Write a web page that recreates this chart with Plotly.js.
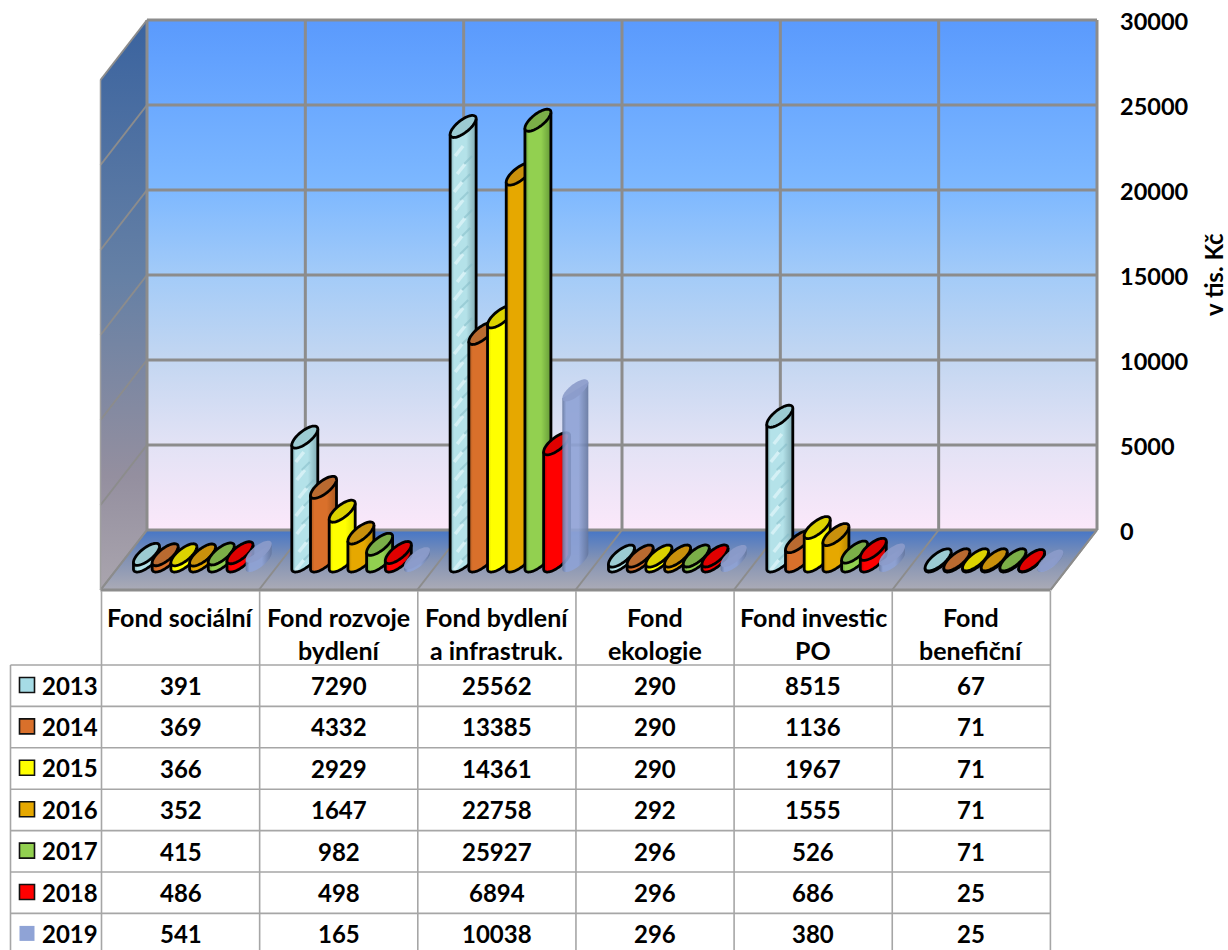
<!DOCTYPE html>
<html>
<head>
<meta charset="utf-8">
<script src="https://cdn.plot.ly/plotly-3.0.1.min.js"></script>
<style>html,body{margin:0;padding:0;background:#fff;overflow:hidden}#c{width:1228px;height:950px}</style>
</head>
<body>
<div id="c"></div>
<script>
const categories = ["Fond sociální","Fond rozvoje<br>bydlení","Fond bydlení<br>a infrastruk.","Fond<br>ekologie","Fond investic<br>PO","Fond<br>benefiční"];
const years = ["2013","2014","2015","2016","2017","2018","2019"];
const v2013 = [391,7290,25562,290,8515,67];
const v2014 = [369,4332,13385,290,1136,71];
const v2015 = [366,2929,14361,290,1967,71];
const v2016 = [352,1647,22758,292,1555,71];
const v2017 = [415,982,25927,296,526,71];
const v2018 = [486,498,6894,296,686,25];
const v2019 = [541,165,10038,296,380,25];
const seriesValues = [v2013,v2014,v2015,v2016,v2017,v2018,v2019];
const tickValues = [0,5000,10000,15000,20000,25000,30000];
const bodyColors = ["#B4E2E9","#D9702B","#FFFF00","#E6A800","#92D050","#FF0000","#8FA3D6"];
const topColors  = ["#9CCBD2","#B96A30","#DCD200","#C9900C","#7BAE48","#E00000","#8C9CCB"];
const edgeColors = ["#7FAAB3","#A9581F","#E0E000","#B98700","#659A38","#C80000","#65779F"];
const keyColors  = ["#A6DCE6","#D9702B","#FFFF00","#E6A800","#92D050","#FF0000","#8FA3D6"];

const L=147,R=1097,T=20,B=530,PR=1100;
const pxX=(R-L)/6, pxY=(B-T)/30000;
const X=p=>p===null?null:(p-L)/pxX;
const Y=p=>p===null?null:(B-p)/pxY;
const DX=-46.5, DY=60;
const FONT='Lato, Carlito, Arial, sans-serif';
const traces=[];
function poly(xs,ys,opt){
  const t=Object.assign({type:'scatter',mode:'lines',x:xs.map(X),y:ys.map(Y),hoverinfo:'skip',showlegend:false,cliponaxis:false,line:{width:0}},opt);
  t.line=Object.assign({simplify:false},t.line);
  traces.push(t);
}

// back wall, floor, left wall
poly([L,R,R,L],[T,T,B,B],{fill:'toself',fillgradient:{type:'vertical',colorscale:[[0,'#FBE8FA'],[0.17,'#E2E2F5'],[0.34,'#C2D6F1'],[0.5,'#A3CBF8'],[0.67,'#7DB8FF'],[0.84,'#6BA9FF'],[1,'#5A9AFD']]}});
poly([L,R,R+DX,L+DX],[B,B,B+DY,B+DY],{fill:'toself',fillgradient:{type:'vertical',colorscale:[[0,'#ABABB6'],[0.5,'#8493B4'],[1,'#4676C6']]}});
poly([L,L,L+DX,L+DX],[T,B,B+DY,T+DY],{fill:'toself',fillgradient:{type:'vertical',colorscale:[[0,'#AAA5AE'],[0.2,'#948F9F'],[0.55,'#6580A5'],[1,'#3A639F']]}});

// grid lines through the axis scales
const gridX=[],gridY=[];
tickValues.forEach(v=>{const y=B-v*pxY;gridX.push(L,R,null);gridY.push(y,y,null);});
for(let i=0;i<=6;i++){const x=L+i*pxX;gridX.push(x,x,null);gridY.push(T,B,null);}
poly(gridX,gridY,{line:{color:'#8C8C8C',width:3}});
const g2X=[],g2Y=[];
tickValues.forEach(v=>{const y=B-v*pxY;g2X.push(L,L+DX,null);g2Y.push(y,y+DY,null);});
for(let i=0;i<=6;i++){const x=L+i*pxX;g2X.push(x,x+DX,null);g2Y.push(B,B+DY,null);}
poly(g2X,g2Y,{line:{color:'#8C8C8C',width:2}});
poly([L+DX,R+DX],[B+DY,B+DY],{line:{color:'#8C8C8C',width:3}});
poly([R+DX,R],[B+DY,B],{line:{color:'#8C8C8C',width:2}});
poly([L+DX,L+DX],[T+DY,B+DY],{line:{color:'#A0A0A0',width:1.5}});

// cylinders
const RX=13, A=8, B2=7.6, STEP=18.7, BASE=561;
function ring(cx,cy,t0,t1,n){
  const xs=[],ys=[];
  for(let k=0;k<=n;k++){const t=t0+(t1-t0)*k/n;xs.push(cx+RX*Math.cos(t));ys.push(cy-A*Math.cos(t)-B2*Math.sin(t));}
  return [xs,ys];
}
categories.forEach((c,i)=>{
  seriesValues.forEach((vals,s)=>{
    const cx=L+(i+0.5)*pxX-23.6+(s-3)*STEP;
    const top=BASE-vals[i]*pxY;
    const bot=ring(cx,BASE,Math.PI,2*Math.PI,40);
    const xs=[cx-RX,...bot[0],cx+RX,cx-RX];
    const ys=[top+A,...bot[1],top-A,top+A];
    const ln=s===6?{width:0}:{color:'#000',width:2.8};
    const e=edgeColors[s],b=bodyColors[s];
    poly(xs,ys,{fill:'toself',opacity:s===6?0.9:1,fillgradient:{type:'horizontal',colorscale:[[0,e],[0.15,b],[0.62,b],[1,e]]}});
    if(s===0){
      // ice-like texture of the 2013 series: pale and darker wisps along the body
      const lightX=[],lightY=[],darkX=[],darkY=[];
      let k=0;
      for(let y=BASE+4;y>top+18;y-=9){
        const off=[-5,3,-2,5,-4,1][k%6];
        const xa=cx+off-4,xb=cx+off+4;
        if(k%2===0){lightX.push(xa,xb,null);lightY.push(y+5,y-5,null);}
        else{darkX.push(xa,xb,null);darkY.push(y+4,y-4,null);}
        k++;
      }
      poly(lightX,lightY,{line:{color:'rgba(225,247,250,0.7)',width:3.5}});
      poly(darkX,darkY,{line:{color:'rgba(130,185,198,0.5)',width:2}});
    }
    poly(xs,ys,{line:ln});
    const r=ring(cx,top,0,2*Math.PI,60);
    poly(r[0],r[1],{fill:'toself',fillcolor:topColors[s],opacity:s===6?0.9:1,line:ln});
  });
});

// data table
const colX=[];for(let i=0;i<=6;i++)colX.push(101.5+i*158.15);
const rowY=[];for(let r=0;r<=7;r++)rowY.push(665+r*41.4);
const tX=[],tY=[];
colX.forEach(x=>{tX.push(x,x,null);tY.push(591,950,null);});
tX.push(10.5,10.5,null);tY.push(rowY[0],950,null);
rowY.forEach(y=>{if(y<950){tX.push(10.5,colX[6],null);tY.push(y,y,null);}});
poly(tX,tY,{line:{color:'#A6A6A6',width:1.6}});

const annotations=[];
function label(px,py,text,size,anchor){
  annotations.push({xref:'x',yref:'y',x:X(px),y:Y(py),text:text,showarrow:false,xanchor:anchor||'center',yanchor:'middle',
    font:{family:FONT,size:size,color:'#000',weight:700},align:'center'});
}
const TS=24, HS=25;
categories.forEach((c,i)=>{
  const cx=(colX[i]+colX[i+1])/2;
  const lines=c.split('<br>');
  lines.forEach((ln,k)=>label(cx,617+k*33,ln,HS));
  seriesValues.forEach((vals,s)=>label(cx,685.5+s*41.4,String(vals[i]),TS));
});
years.forEach((yr,s)=>label(40,685+s*41.4,yr,TS,'left'));
annotations.push({xref:'paper',yref:'paper',x:1213/PR,y:1-275/950,text:'v tis. Kč',textangle:-90,showarrow:false,xanchor:'center',yanchor:'middle',
  font:{family:FONT,size:24,color:'#000',weight:700}});
traces.push({type:'scatter',mode:'markers',x:years.map(()=>X(27)),y:years.map((yr,s)=>Y(685+s*41.4)),hoverinfo:'skip',showlegend:false,cliponaxis:false,
  marker:{symbol:'square',size:15,color:keyColors,line:{color:years.map((y,s)=>s===6?'rgba(0,0,0,0)':'#111'),width:1.6}}});

Plotly.newPlot('c',traces,{
  width:1228,height:950,showlegend:false,
  paper_bgcolor:'#fff',plot_bgcolor:'rgba(0,0,0,0)',
  margin:{l:0,r:1228-PR,t:0,b:0,pad:0},
  xaxis:{range:[X(0),X(PR)],showgrid:false,zeroline:false,showline:false,showticklabels:false,ticks:''},
  yaxis:{range:[Y(950),Y(0)],side:'right',tickvals:tickValues,ticktext:tickValues.map(String),showgrid:false,zeroline:false,showline:false,ticks:'',
    ticklabelstandoff:19,ticklabelshift:2,
    tickfont:{family:FONT,size:23.5,color:'#000',weight:700}},
  annotations:annotations
},{displayModeBar:false,staticPlot:true});
</script>
</body>
</html>
